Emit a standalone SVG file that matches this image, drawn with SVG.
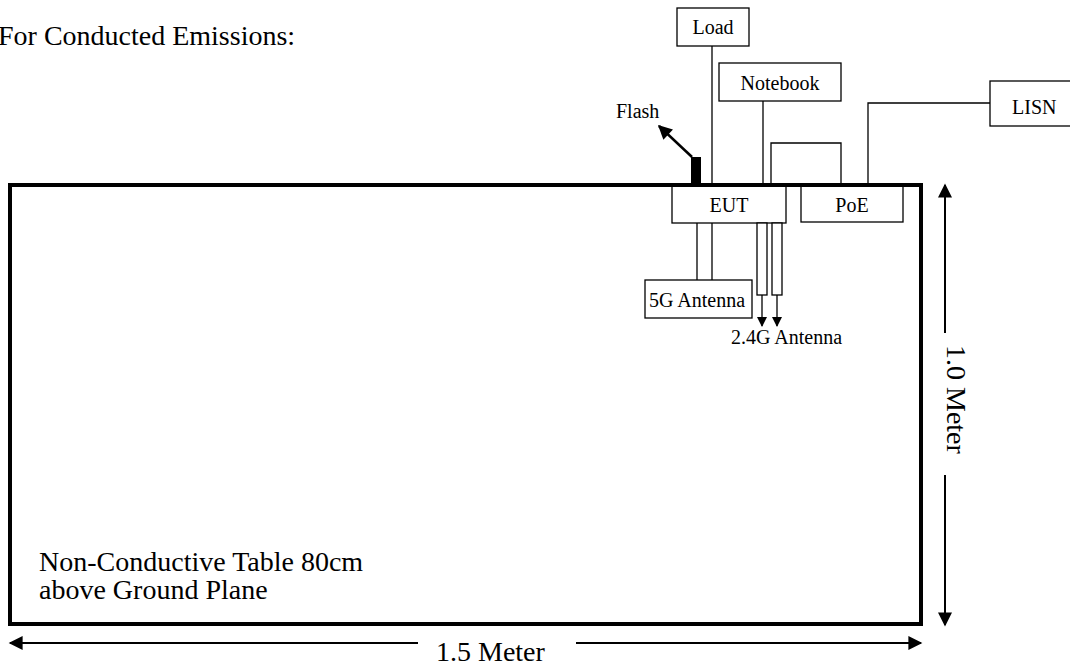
<svg xmlns="http://www.w3.org/2000/svg" width="1070" height="666" viewBox="0 0 1070 666">
<defs>
<style>
text{font-family:"Liberation Serif","DejaVu Serif",serif;fill:#000}
.big{font-size:28px}
.sm{font-size:20px}
.box{fill:#fff;stroke:#000;stroke-width:1.3}
.ln{fill:none;stroke:#000;stroke-width:1.3}
.dim{fill:none;stroke:#000;stroke-width:2}
</style>
<marker id="ah" viewBox="0 0 10 10" refX="9" refY="5" markerWidth="11" markerHeight="10" orient="auto" markerUnits="userSpaceOnUse">
<path d="M0,0 L10,5 L0,10 z" fill="#000"/>
</marker>
<marker id="ad" viewBox="0 0 10 10" refX="9" refY="5" markerWidth="15" markerHeight="14" orient="auto" markerUnits="userSpaceOnUse">
<path d="M0,0 L10,5 L0,10 z" fill="#000"/>
</marker>
</defs>
<rect width="1070" height="666" fill="#fff"/>
<g font-family="Liberation Serif, serif">
<text class="big" x="-2" y="45">For Conducted Emissions:</text>
<g id="table">
<rect x="10" y="185" width="911" height="439" fill="none" stroke="#000" stroke-width="4"/>
<text class="big" x="39" y="571">Non-Conductive Table 80cm</text>
<text class="big" x="39" y="599">above Ground Plane</text>
</g>
<g id="connectors">
<line class="ln" x1="712" y1="46" x2="712" y2="185"/>
<line class="ln" x1="763" y1="101" x2="763" y2="185"/>
<polyline class="ln" points="771,185 771,143 841,143 841,185"/>
<polyline class="ln" points="990,103 868,103 868,185"/>
<line class="ln" x1="697" y1="223" x2="697" y2="280"/>
<line class="ln" x1="712" y1="223" x2="712" y2="280"/>
<line class="ln" x1="762" y1="295" x2="762" y2="326" marker-end="url(#ah)" stroke-width="1.5"/>
<line class="ln" x1="777" y1="295" x2="777" y2="326" marker-end="url(#ah)" stroke-width="1.5"/>
<line x1="692" y1="157" x2="659" y2="126" stroke="#000" stroke-width="2.5" marker-end="url(#ad)"/>
</g>
<g id="load"><rect class="box" x="677" y="8" width="72" height="38"/><text class="sm" x="713" y="34" text-anchor="middle">Load</text></g>
<g id="notebook"><rect class="box" x="719" y="63" width="122" height="38"/><text class="sm" x="780" y="90" text-anchor="middle">Notebook</text></g>
<g id="lisn"><rect class="box" x="990" y="81" width="90" height="45"/><text class="sm" x="1012" y="114">LISN</text></g>
<g id="flash"><rect x="691" y="157" width="10" height="28" fill="#000"/><text class="sm" x="616" y="118">Flash</text></g>
<g id="eut"><rect class="box" x="672" y="185" width="114" height="38"/><text class="sm" x="729" y="212" text-anchor="middle">EUT</text></g>
<g id="poe"><rect class="box" x="801" y="185" width="102" height="37"/><text class="sm" x="852" y="212" text-anchor="middle">PoE</text></g>
<g id="ant5g"><rect class="box" x="645" y="280" width="107" height="38"/><text class="sm" x="649" y="307">5G Antenna</text></g>
<g id="ant24g">
<rect class="box" x="757" y="223" width="10" height="72"/>
<rect class="box" x="772" y="223" width="10" height="72"/>
<text class="sm" x="731" y="344">2.4G Antenna</text>
</g>
<line x1="10" y1="185" x2="921" y2="185" stroke="#000" stroke-width="4"/>
<g id="dim-h">
<line class="dim" x1="418" y1="643" x2="10" y2="643" marker-end="url(#ad)"/>
<line class="dim" x1="576" y1="643" x2="921" y2="643" marker-end="url(#ad)"/>
<text class="big" x="436" y="661">1.5 Meter</text>
</g>
<g id="dim-v">
<line class="dim" x1="945" y1="333" x2="945" y2="185" marker-end="url(#ad)"/>
<line class="dim" x1="945" y1="475" x2="945" y2="625" marker-end="url(#ad)"/>
<text class="big" transform="translate(947,345) rotate(90)">1.0 Meter</text>
</g>
</g>
</svg>
